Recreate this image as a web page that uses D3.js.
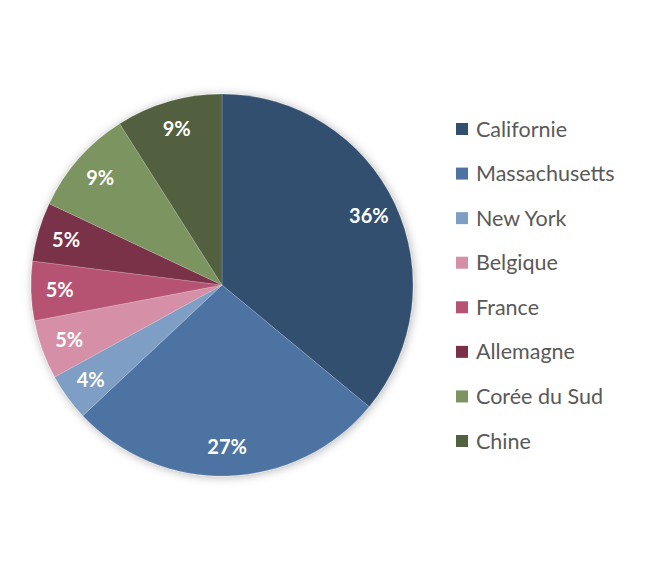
<!DOCTYPE html>
<html lang="fr">
<head>
<meta charset="utf-8">
<title>Répartition</title>
<script src="https://cdn.jsdelivr.net/npm/d3@7"></script>
<style>
  body { margin: 0; background: #fff; }
  text { font-family: Lato, "Open Sans", sans-serif; }
</style>
</head>
<body>
<script>
// données
var regions = ["Californie", "Massachusetts", "New York", "Belgique", "France", "Allemagne", "Corée du Sud", "Chine"];
var parts = [36, 27, 4, 5, 5, 5, 9, 9];
var couleurs = ["#334f6f", "#4e73a3", "#7f9ec5", "#d590a7", "#b75372", "#7a3049", "#7b9461", "#52613f"];

var width = 645, height = 572;
var cx = 222, cy = 285, r = 191;

var svg = d3.select("body").append("svg")
  .attr("width", width)
  .attr("height", height);

// ombre douce autour du camembert
var f = svg.append("defs").append("filter")
  .attr("id", "ombre")
  .attr("x", "-20%").attr("y", "-20%")
  .attr("width", "140%").attr("height", "140%");
f.append("feDropShadow")
  .attr("dx", 1).attr("dy", 1)
  .attr("stdDeviation", 5)
  .attr("flood-color", "#000")
  .attr("flood-opacity", 0.3);

var color = d3.scaleOrdinal().domain(regions).range(couleurs);

var pie = d3.pie().sort(null).value(function(d, i){ return parts[i]; });
var arc = d3.arc().innerRadius(0).outerRadius(r);
var labelArc = d3.arc().innerRadius(r * 0.85).outerRadius(r * 0.85);

var arcs = pie(regions);

var g = svg.append("g").attr("transform", "translate(" + cx + "," + cy + ")");

g.append("g").attr("filter", "url(#ombre)")
  .selectAll("path")
  .data(arcs)
  .enter()
  .append("path")
  .attr("fill", function(d){ return color(d.data); })
  .attr("stroke", "rgba(255,255,255,0.25)")
  .attr("stroke-width", 0.7)
  .attr("d", arc);

g.selectAll("text.pct")
  .data(arcs)
  .enter()
  .append("text")
  .attr("class", "pct")
  .attr("transform", function(d){ return "translate(" + labelArc.centroid(d) + ")"; })
  .attr("text-anchor", "middle")
  .attr("dy", "0.35em")
  .attr("fill", "#fff")
  .attr("font-weight", "bold")
  .attr("font-size", 20)
  .text(function(d){ return d.value + "%"; });

// légende
var legendY = d3.scalePoint().domain(regions).range([129, 441]);

var leg = svg.append("g").selectAll("g")
  .data(regions)
  .enter()
  .append("g")
  .attr("transform", function(d){ return "translate(456," + legendY(d) + ")"; });

leg.append("rect")
  .attr("x", 0).attr("y", -6)
  .attr("width", 12).attr("height", 12)
  .attr("fill", function(d){ return color(d); });

leg.append("text")
  .attr("x", 20)
  .attr("dy", "0.35em")
  .attr("fill", "#595959")
  .attr("font-size", 21.5)
  .text(function(d){ return d; });
</script>
</body>
</html>
